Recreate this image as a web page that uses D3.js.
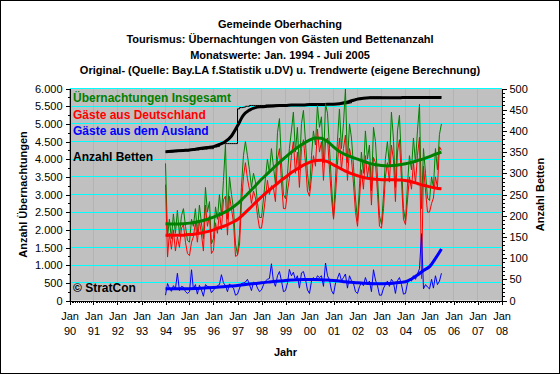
<!DOCTYPE html>
<html>
<head>
<meta charset="utf-8">
<script src="https://cdn.jsdelivr.net/npm/d3@7"></script>
<style>
  body { margin: 0; background: #fff; }
  svg { display: block; font-family: Arial, "Liberation Sans", sans-serif; }
</style>
</head>
<body>
<script>
// titles
var titleLines = [
  "Gemeinde Oberhaching",
  "Tourismus: Übernachtungen von Gästen und Bettenanzahl",
  "Monatswerte: Jan. 1994 - Juli 2005",
  "Original- (Quelle: Bay.LA f.Statistik u.DV) u. Trendwerte (eigene Berechnung)"
];
var legendNames = ["Übernachtungen Insgesamt", "Gäste aus Deutschland", "Gäste aus dem Ausland", "Anzahl Betten"];

// monthly values Jan 1994 - Jul 2005
var firstMonth = new Date(1994, 0, 1);
var gesamt = [
  3880,1800,2300,1750,2450,1900,2550,1850,2400,2600,2100,1700,
  1650,2300,2100,2600,1900,2700,2200,1750,3200,2500,2800,1600,
  1750,2650,2300,3000,2400,3400,4420,2300,3500,3000,2600,1600,
  1300,1900,3200,4100,4500,4100,3700,3200,3600,3350,2750,2350,
  2350,2900,3450,4000,3600,4300,3800,3300,4750,5150,3900,3000,
  2880,3600,4300,4800,5330,4200,4900,3700,5000,5380,4500,3600,
  3100,4100,4800,4400,5520,4900,5200,3900,5570,5300,4300,3300,
  2350,3500,4500,5420,4300,5000,5980,3900,5000,4600,3800,2900,
  2250,3300,4200,3600,4800,4000,4400,3100,4900,4500,3500,2400,
  2150,3000,4000,4500,3800,5330,4600,3200,4800,5240,3900,2600,
  2250,3300,4100,3700,4600,3900,4800,5550,2600,4300,3600,2900,
  2830,3500,3200,4300,3700,4700,5000
];
var deutschland = [
  3280,1230,1900,1450,2000,1400,1800,1500,2050,2150,1650,1330,
  1270,1650,1800,2200,1650,2250,1900,1400,2700,2100,2400,1330,
  1420,2200,1900,2500,2000,2850,2950,1850,2950,2600,2200,1250,
  1280,1600,2700,3500,3900,3450,3150,2750,3100,2900,2400,2050,
  2050,2450,2900,3400,3000,3250,3200,2800,4000,4300,3350,2600,
  2600,3100,3450,4100,4500,3600,4200,3200,4300,4550,3900,3100,
  2950,3500,4100,3800,4850,4200,4500,3400,4500,4600,3700,2900,
  2300,3000,3850,4600,3700,4300,4680,3400,4300,4000,3300,2500,
  2100,2900,3700,3150,4100,3500,3900,2700,4050,3900,3050,2100,
  2050,2600,3500,3900,3350,4400,4000,2800,4200,4550,3400,2300,
  2150,2850,3500,3150,3900,3300,4100,4620,620,3800,3100,2500,
  2500,2750,2900,3500,3200,4350,4250
];
var ausland = [
  150,480,350,260,420,330,770,280,400,380,250,200,
  250,870,320,450,180,430,300,120,450,400,380,220,
  300,350,420,450,730,500,420,250,470,400,350,150,
  180,350,480,500,520,600,450,280,520,500,350,250,
  300,450,550,600,620,1040,550,400,700,820,550,250,
  280,500,880,700,800,580,700,350,780,820,600,300,
  200,550,650,550,700,650,700,400,1060,700,580,280,
  180,500,620,780,560,650,750,350,700,560,480,250,
  200,400,500,420,650,480,550,250,870,580,420,150,
  150,350,450,550,400,600,520,200,560,650,450,180,
  200,500,600,550,700,600,750,900,1890,330,450,380,
  330,600,350,700,450,550,770
];
var betten = [
  350,350,350,350,351,351,352,352,352,353,353,353,
  354,354,354,355,355,356,356,357,357,358,358,358,
  362,362,363,370,370,370,370,370,370,370,370,370,
  452,455,455,456,458,458,460,460,460,460,460,460,
  460,460,461,461,461,461,461,461,461,461,461,461,
  461,461,461,461,462,462,462,462,462,462,462,462,
  462,462,462,462,462,462,463,463,463,463,463,463,
  463,463,463,464,464,464,464,465,466,470,474,476,
  477,477,477,478,478,478,480,480,480,480,480,480,
  479,479,479,478,478,478,477,477,477,477,477,477,
  478,478,478,478,479,479,479,479,480,480,480,480,
  480,480,480,480,480,480,480
];

// trend values, quarterly (Jan, Apr, Jul, Oct) Jan 1994 - Jul 2005
var trendGesamt = [
  2170,2165,2165,2175, 2190,2215,2250,2300, 2360,2430,2510,2610,
  2740,2900,3070,3250, 3430,3590,3750,3910, 4060,4200,4330,4440,
  4540,4600,4590,4500, 4350,4220,4130,4060, 4000,3940,3880,3840,
  3820,3810,3820,3840, 3870,3910,3960,4010, 4070,4140,4200
];
var trendDeutschland = [
  1850,1845,1845,1850, 1865,1885,1910,1950, 2000,2060,2120,2200,
  2290,2440,2600,2770, 2930,3080,3220,3360, 3490,3620,3730,3830,
  3910,3965,3970,3930, 3840,3750,3660,3590, 3530,3480,3450,3430,
  3420,3420,3420,3410, 3395,3360,3310,3260, 3220,3185,3160
];
var trendAusland = [
  335,333,333,334, 336,340,348,358, 370,383,396,410,
  425,445,465,483, 500,520,540,555, 566,577,586,591,
  594,594,590,580, 566,550,530,515, 500,490,480,474,
  472,478,490,508, 530,610,720,850, 960,1190,1460
];
var trendBetten = [
  351,352,353,354, 355,357,359,361, 363,368,375,388,
  412,437,449,455, 457,458,459,460, 460,461,461,461,
  462,462,462,463, 463,464,467,471, 475,477,478,478,
  478,478,478,478, 479,479,479,479, 479,479,479
];

var W = 560, H = 374;
var plot = { left: 69.5, right: 501.5, top: 88.5, bottom: 300.5 };

var svg = d3.select("body").append("svg")
  .attr("width", W)
  .attr("height", H);

svg.append("rect")
  .attr("x", 0.5).attr("y", 0.5)
  .attr("width", W - 1).attr("height", H - 1)
  .attr("fill", "#fff").attr("stroke", "#000");

var x = d3.scaleTime()
  .domain([new Date(1990, 0, 1), new Date(2008, 0, 1)])
  .range([plot.left, plot.right]);
var y = d3.scaleLinear().domain([0, 6000]).range([plot.bottom, plot.top]);
var y2 = d3.scaleLinear().domain([0, 500]).range([plot.bottom, plot.top]);

function monthDate(i) { return d3.timeMonth.offset(firstMonth, i); }
function quarterDate(i) { return d3.timeMonth.offset(firstMonth, i * 3); }

// plot background
svg.append("rect")
  .attr("x", plot.left).attr("y", plot.top)
  .attr("width", plot.right - plot.left).attr("height", plot.bottom - plot.top)
  .attr("fill", "#c0c0c0");

// gridlines
var grid = svg.append("g").attr("stroke", "#00ffff").attr("stroke-width", 1.3).attr("shape-rendering", "crispEdges");
grid.selectAll(".gx")
  .data(x.ticks(d3.timeYear.every(1)))
  .enter().append("line")
  .attr("x1", function(d) { return x(d); }).attr("x2", function(d) { return x(d); })
  .attr("y1", plot.top).attr("y2", plot.bottom);
grid.selectAll(".gy")
  .data(d3.range(500, 6001, 500))
  .enter().append("line")
  .attr("x1", plot.left).attr("x2", plot.right)
  .attr("y1", function(d) { return y(d); }).attr("y2", function(d) { return y(d); });

// lines
var lineMonthly = function(scale) {
  return d3.line().x(function(d, i) { return x(monthDate(i)); }).y(function(d) { return scale(d); });
};
var lineTrend = function(scale) {
  return d3.line().curve(d3.curveMonotoneX)
    .x(function(d, i) { return x(quarterDate(i)); }).y(function(d) { return scale(d); });
};

var lines = svg.append("g").attr("fill", "none").attr("stroke-linejoin", "round");

lines.append("path").datum(betten).attr("d", d3.line().curve(d3.curveStepAfter)
    .x(function(d, i) { return x(monthDate(i)); }).y(function(d) { return y2(d); }))
  .attr("stroke", "#000").attr("stroke-width", 1);
lines.append("path").datum(trendBetten).attr("d", lineTrend(y2))
  .attr("stroke", "#000").attr("stroke-width", 3);

lines.append("path").datum(gesamt).attr("d", lineMonthly(y))
  .attr("stroke", "#008000").attr("stroke-width", 1);
lines.append("path").datum(deutschland).attr("d", lineMonthly(y))
  .attr("stroke", "#ff0000").attr("stroke-width", 1);
lines.append("path").datum(ausland).attr("d", lineMonthly(y))
  .attr("stroke", "#0000ff").attr("stroke-width", 1);

lines.append("path").datum(trendGesamt).attr("d", lineTrend(y))
  .attr("stroke", "#008000").attr("stroke-width", 3);
lines.append("path").datum(trendDeutschland).attr("d", lineTrend(y))
  .attr("stroke", "#ff0000").attr("stroke-width", 3);
lines.append("path").datum(trendAusland).attr("d", lineTrend(y))
  .attr("stroke", "#0000ff").attr("stroke-width", 3);

// axes
var de = d3.formatLocale({ decimal: ",", thousands: ".", grouping: [3], currency: ["", " €"] });
var fmt = de.format(",");

var axisFont = function(g) {
  g.selectAll("text").attr("font-size", 11).attr("fill", "#000").attr("font-family", "Arial, 'Liberation Sans', sans-serif");
  g.selectAll("line, path").attr("stroke", "#000").attr("shape-rendering", "crispEdges");
};

// minor ticks
svg.append("g").attr("transform", "translate(" + plot.left + ",0)")
  .call(d3.axisLeft(y).tickValues(d3.range(0, 6001, 250)).tickSize(2).tickFormat(""))
  .call(axisFont).select(".domain").remove();
svg.append("g").attr("transform", "translate(" + plot.left + ",0)")
  .call(d3.axisLeft(y).tickValues(d3.range(0, 6001, 500)).tickSize(4).tickPadding(3).tickFormat(fmt).tickSizeOuter(0))
  .call(axisFont);

svg.append("g").attr("transform", "translate(" + plot.right + ",0)")
  .call(d3.axisRight(y2).tickValues(d3.range(0, 501, 10)).tickSize(3).tickFormat(""))
  .call(axisFont).select(".domain").remove();
svg.append("g").attr("transform", "translate(" + plot.right + ",0)")
  .call(d3.axisRight(y2).tickValues(d3.range(0, 501, 50)).tickSize(5).tickPadding(3).tickSizeOuter(0))
  .call(axisFont);

svg.append("g").attr("transform", "translate(0," + plot.bottom + ")")
  .call(d3.axisBottom(x).ticks(d3.timeMonth.every(1)).tickSize(2).tickFormat(""))
  .call(axisFont).select(".domain").remove();
var xAxis = svg.append("g").attr("transform", "translate(0," + plot.bottom + ")")
  .call(d3.axisBottom(x).ticks(d3.timeYear.every(1)).tickSize(4).tickFormat("").tickSizeOuter(0))
  .call(axisFont);
xAxis.selectAll(".tick").append("text")
  .attr("y", 19.5).attr("text-anchor", "middle")
  .attr("font-size", 11).attr("fill", "#000")
  .text(function(d) { return d3.timeFormat("%b")(d); });
xAxis.selectAll(".tick").append("text")
  .attr("y", 34).attr("text-anchor", "middle")
  .attr("font-size", 11).attr("fill", "#000")
  .text(function(d) { return d3.timeFormat("%y")(d); });

// axis titles
svg.append("text")
  .attr("transform", "translate(27," + ((plot.top + plot.bottom) / 2) + ") rotate(-90)")
  .attr("text-anchor", "middle").attr("font-size", 11).attr("font-weight", "bold")
  .text("Anzahl Übernachtungen");
svg.append("text")
  .attr("transform", "translate(544," + ((plot.top + plot.bottom) / 2) + ") rotate(-90)")
  .attr("text-anchor", "middle").attr("font-size", 11).attr("font-weight", "bold")
  .text("Anzahl Betten");
svg.append("text")
  .attr("x", (plot.left + plot.right) / 2).attr("y", 356)
  .attr("text-anchor", "middle").attr("font-size", 11).attr("font-weight", "bold")
  .text("Jahr");

// title
svg.append("g").selectAll("text")
  .data(titleLines)
  .enter().append("text")
  .attr("x", 280).attr("y", function(d, i) { return 28 + i * 15.4; })
  .attr("text-anchor", "middle").attr("font-size", 11).attr("font-weight", "bold")
  .text(function(d) { return d; });

// legend texts inside plot
var legendColors = ["#008000", "#ff0000", "#0000ff", "#000"];
var legendY = [102, 119, 135, 161];
svg.append("g").selectAll("text")
  .data(legendNames)
  .enter().append("text")
  .attr("x", 73).attr("y", function(d, i) { return legendY[i]; })
  .attr("font-size", 12).attr("font-weight", "bold")
  .attr("fill", function(d, i) { return legendColors[i]; })
  .text(function(d) { return d; });

svg.append("text")
  .attr("x", 73).attr("y", 292)
  .attr("font-size", 12).attr("font-weight", "bold")
  .text("© StratCon");
</script>
</body>
</html>
